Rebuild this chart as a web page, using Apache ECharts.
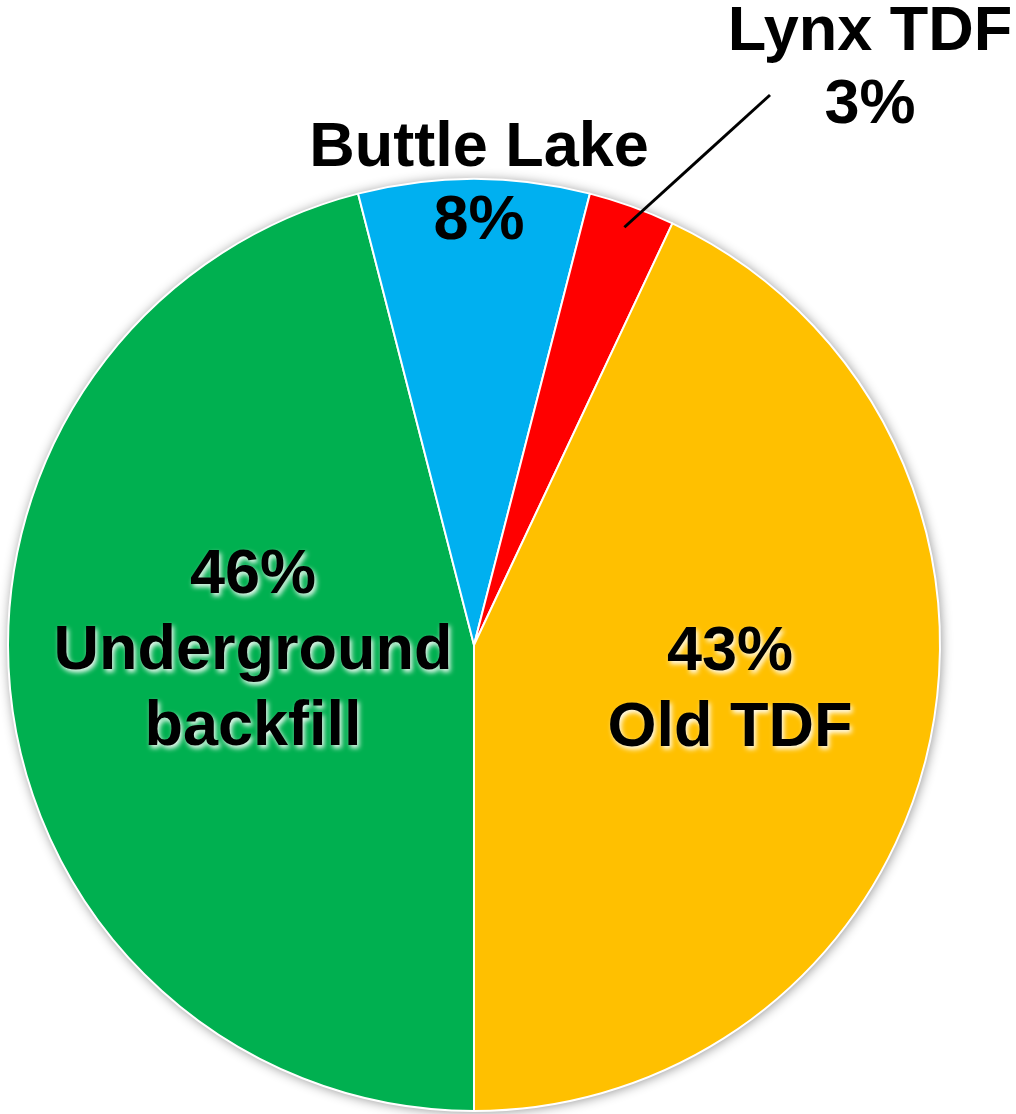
<!DOCTYPE html>
<html>
<head>
<meta charset="utf-8">
<script src="https://cdn.jsdelivr.net/npm/echarts@6/dist/echarts.min.js"></script>
<style>
  html, body { margin: 0; padding: 0; background: #ffffff; }
  #chart { width: 1016px; height: 1114px; }
</style>
</head>
<body>
<div id="chart"></div>
<script>
// Tailings deposition by destination (share of total, %)
const categories = ['Underground backfill', 'Buttle Lake', 'Lynx TDF', 'Old TDF'];
const shares = [46, 8, 3, 43];
const sliceColors = ['#00B050', '#00B0F0', '#FF0000', '#FFC000'];

// pie geometry (px)
const CENTER = [474, 645];
const RADIUS = 466;
const START_ANGLE = -90;   // first slice begins at six o'clock, runs clockwise

// where each label block sits (px, block centre)
const labelSpots = [[253, 652], [479, 185], [870, 69], [730, 691]];
const insideLabel = [true, false, false, true];

const FONT = '"Liberation Sans", Arial, Helvetica, sans-serif';

const chart = echarts.init(document.getElementById('chart'), null, { renderer: 'canvas' });

// mid angle of a slice, in screen radians (0 = three o'clock, y down)
function sliceMidAngle(index) {
  const total = shares.reduce((a, b) => a + b, 0);
  let before = 0;
  for (let k = 0; k < index; k++) before += shares[k];
  const frac = (before + shares[index] / 2) / total;
  const deg = START_ANGLE - frac * 360;
  return -deg * Math.PI / 180;
}

const pieBase = {
  type: 'pie',
  silent: true,
  center: CENTER,
  radius: RADIUS,
  startAngle: START_ANGLE,
  clockwise: true,
  avoidLabelOverlap: false
};

// coloured slices
const sliceData = categories.map((name, i) => ({
  name: name,
  value: shares[i],
  itemStyle: { color: sliceColors[i] }
}));

// same slices again, unfilled, carrying the labels so the leader line sits above the colours
const labelData = categories.map((name, i) => {
  const label = { position: i === 2 ? 'outside' : 'inside' };
  if (insideLabel[i]) {
    Object.assign(label, {
      lineHeight: 76,
      textShadowColor: 'rgba(255,255,255,0.95)',
      textShadowBlur: 5,
      textShadowOffsetX: 2,
      textShadowOffsetY: 3
    });
  }
  return {
    name: name,
    value: shares[i],
    label: label,
    labelLine: { show: i === 2 }
  };
});

chart.setOption({
  backgroundColor: '#ffffff',
  animation: false,
  series: [
    {
      // soft drop shadow behind the whole disc
      type: 'pie',
      silent: true,
      z: 1,
      center: CENTER,
      radius: RADIUS,
      label: { show: false },
      labelLine: { show: false },
      itemStyle: {
        color: '#ffffff',
        shadowBlur: 12,
        shadowColor: 'rgba(0,0,0,0.45)',
        shadowOffsetX: 1,
        shadowOffsetY: 1
      },
      data: [{ value: 1, name: '' }]
    },
    Object.assign({}, pieBase, {
      z: 2,
      itemStyle: { borderColor: '#ffffff', borderWidth: 2 },
      label: { show: false },
      labelLine: { show: false },
      data: sliceData
    }),
    Object.assign({}, pieBase, {
      z: 3,
      itemStyle: { color: 'rgba(0,0,0,0)', borderWidth: 0 },
      label: {
        show: true,
        color: '#000000',
        fontFamily: FONT,
        fontWeight: 'bold',
        fontSize: 63,
        lineHeight: 73,
        align: 'center',
        formatter: function (p) {
          const i = p.dataIndex;
          const pct = p.value + '%';
          if (insideLabel[i]) {
            const name = i === 0 ? p.name.replace(' ', '\n') : p.name;
            return pct + '\n' + name;
          }
          return p.name + '\n' + pct;
        }
      },
      labelLine: {
        show: false,
        lineStyle: { color: '#000000', width: 3 }
      },
      labelLayout: function (params) {
        const i = params.dataIndex;
        const spot = labelSpots[i];
        const out = { x: spot[0], y: spot[1], align: 'center', verticalAlign: 'middle' };
        if (i === 2) {
          // straight leader from just inside the slice edge towards the label
          const ang = sliceMidAngle(i);
          const r = RADIUS - 22;
          const a = [CENTER[0] + r * Math.cos(ang), CENTER[1] + r * Math.sin(ang)];
          const b = [spot[0] - 100, spot[1] + 26];
          out.labelLinePoints = [a, [(a[0] + b[0]) / 2, (a[1] + b[1]) / 2], b];
        }
        return out;
      },
      data: labelData
    })
  ]
});
</script>
</body>
</html>
